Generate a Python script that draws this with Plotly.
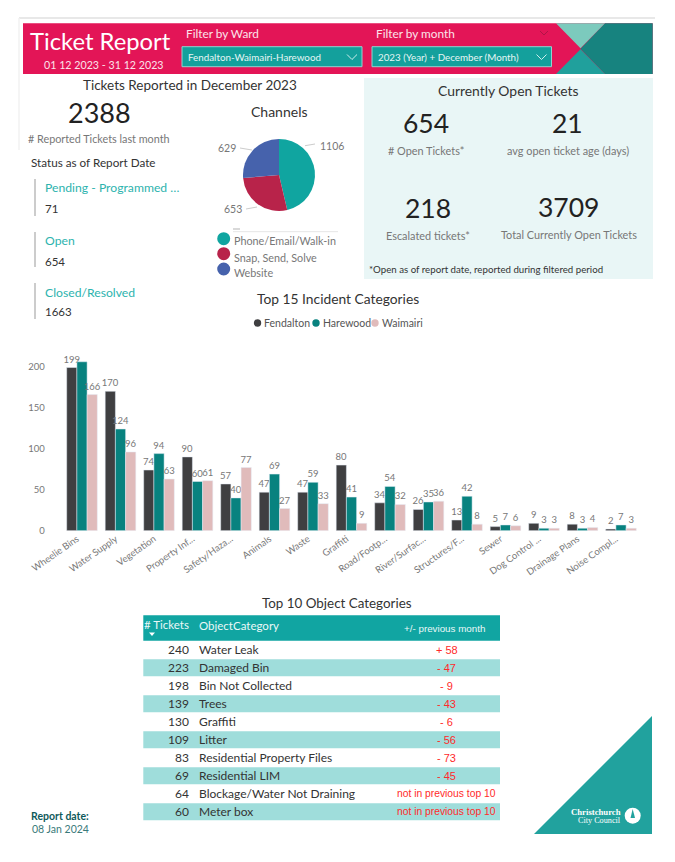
import plotly.graph_objects as go

W, H = 675, 862
FONT = "Lato"

# data
categories = ["Wheelie Bins", "Water Supply", "Vegetation", "Property Inf...", "Safety/Haza...", "Animals", "Waste",
              "Graffiti", "Road/Footp...", "River/Surfac...", "Structures/F...", "Sewer", "Dog Control ...",
              "Drainage Plans", "Noise Compl..."]
fendalton = [199, 170, 74, 90, 57, 47, 47, 80, 34, 26, 13, 5, 9, 8, 2]
harewood = [206, 124, 94, 60, 40, 69, 59, 41, 54, 35, 42, 7, 3, 3, 7]
waimairi = [166, 96, 63, 61, 77, 27, 33, 9, 32, 36, 8, 6, 3, 4, 3]
y_ticks = [0, 50, 100, 150, 200]

channels = ["Phone/Email/Walk-in", "Snap, Send, Solve", "Website"]
channel_values = [1106, 653, 629]

table_tickets = [240, 223, 198, 139, 130, 109, 83, 69, 64, 60]
table_objects = ["Water Leak", "Damaged Bin", "Bin Not Collected", "Trees", "Graffiti", "Litter",
                 "Residential Property Files", "Residential LIM", "Blockage/Water Not Draining", "Meter box"]
table_change = ["+ 58", "- 47", "- 9", "- 43", "- 6", "- 56", "- 73", "- 45",
                "not in previous top 10", "not in previous top 10"]

DARK = "#3F3F41"
TEAL = "#08827F"
PINK = "#E0BBBB"
CHANNEL_COLORS = ["#10A5A0", "#B8234A", "#4662AC"]
GREY = "#777777"
INK = "#333333"


def X(p):
    return p / W


def Y(p):
    return 1 - p / H


annotations = []
shapes = []


def note(x, y, text, size, color=INK, anchor="left", family=FONT):
    annotations.append(dict(x=X(x), y=Y(y), xref="paper", yref="paper", text=text, showarrow=False,
                            xanchor=anchor, yanchor="middle", align=anchor, borderpad=0,
                            font=dict(size=size, color=color, family=family)))


def rect(x0, y0, x1, y1, fill, layer="below"):
    shapes.append(dict(type="rect", xref="paper", yref="paper", x0=X(x0), x1=X(x1), y0=Y(y0), y1=Y(y1),
                       fillcolor=fill, line_width=0, layer=layer))


def line(x0, y0, x1, y1, color, width=1):
    shapes.append(dict(type="line", xref="paper", yref="paper", x0=X(x0), x1=X(x1), y0=Y(y0), y1=Y(y1),
                       line=dict(color=color, width=width)))


def poly(points, fill=None, color=None, width=0, closed=True):
    path = "M " + " L ".join(f"{X(a):.5f},{Y(b):.5f}" for a, b in points) + (" Z" if closed else "")
    shapes.append(dict(type="path", xref="paper", yref="paper", path=path, fillcolor=fill,
                       line=dict(color=color, width=width), layer="above"))


def dot(x, y, r, fill):
    shapes.append(dict(type="circle", xref="paper", yref="paper", x0=X(x - r), x1=X(x + r), y0=Y(y + r), y1=Y(y - r),
                       fillcolor=fill, line_width=0, layer="above"))


# page frame + header band
line(19, 18, 655, 18, "#E8E8E8", 2)
line(19, 18, 19, 150, "#F2F2F2", 1.5)
rect(23, 23.3, 652.7, 74, "#E31557")
poly([(605, 23.3), (652.7, 23.3), (652.7, 74), (605, 74), (580.5, 48.7)], fill="#17837F")
poly([(556, 23.3), (605, 23.3), (580.5, 48.3)], fill="#7CCABD")
poly([(556, 74), (605, 74), (580.5, 49.2)], fill="#20A09C")
note(100, 41, "Ticket Report", 23.8, "white", "center")
note(104, 64, "01 12 2023 - 31 12 2023", 10.7, "#FBE3EA", "center")
note(185, 34, "Filter by Ward", 11.8, "#FBE3EA")
note(375, 34, "Filter by month", 11.8, "#FBE3EA")
for x0, x1, label in [(182, 362, "Fendalton-Waimairi-Harewood"), (372, 551.5, "2023 (Year) + December (Month)")]:
    shapes.append(dict(type="rect", xref="paper", yref="paper", x0=X(x0), x1=X(x1), y0=Y(46.7), y1=Y(66.7),
                       fillcolor="#14A09C", line=dict(color="#8FD4D0", width=1), layer="above"))
    note(x0 + 5, 57, label, 9.8, "#E6F6F5")
    poly([(x1 - 15, 54.5), (x1 - 10, 59.5), (x1 - 5, 54.5)], color="#CFEFED", width=1, closed=False)
poly([(540, 31), (544, 35), (548, 31)], color="#B01548", width=1, closed=False)

# left KPIs
note(190, 85, "Tickets Reported in December 2023", 13.5, INK, "center")
note(99, 112, "2388", 27, "#222222", "center")
note(99, 138, "# Reported Tickets last month", 10.8, GREY, "center")
note(30, 162, "Status as of Report Date", 11.7, INK)
for y0, y1, label, value in [(179, 216, "Pending - Programmed …", "71"), (232, 267, "Open", "654"),
                             (283, 319, "Closed/Resolved", "1663")]:
    line(35, y0, 35, y1, "#BBBBBB", 1.5)
    note(44, y0 + 9, label, 12.2, "#2DB3AE")
    note(44, y0 + 29, value, 11.5, INK)

# channels pie text
note(279, 111, "Channels", 14, INK, "center")
note(319, 145.7, str(channel_values[0]), 10.5, GREY)
note(237, 148, str(channel_values[2]), 10.5, GREY, "right")
note(243, 209, str(channel_values[1]), 10.5, GREY, "right")
line(305, 145.7, 315, 144, "#CCCCCC")
line(240, 148, 252, 150, "#CCCCCC")
line(246, 209, 257, 207, "#CCCCCC")
line(233, 229, 240, 229, "#CCCCCC", 1.5)
line(233, 231.7, 338, 231.7, "#E6E6E6")
for name, color, yd, yt in zip(channels, CHANNEL_COLORS, [238.7, 253.7, 269], [240.7, 257, 273]):
    dot(223.7, yd, 6.5, color)
    note(233, yt, name, 10.8, GREY)

# open tickets panel
rect(364, 78, 653, 279, "#E9F6F6")
note(507.7, 91, "Currently Open Tickets", 13.9, INK, "center")
for x, y, big, small in [(425.7, 122.7, "654", "# Open Tickets*"), (567.5, 122.7, "21", "avg open ticket age (days)"),
                         (427.5, 208, "218", "Escalated tickets*"), (568.5, 207, "3709", "Total Currently Open Tickets")]:
    note(x, y, big, 26.5, "#222222", "center")
    note(x, y + 27.5, small, 10.9, GREY, "center")
note(368.3, 269, "*Open as of report date, reported during filtered period", 9.7, INK)

# bar chart title and legend
note(338, 298, "Top 15 Incident Categories", 13.8, INK, "center")
for x, name, color in [(257.5, "Fendalton", DARK), (316, "Harewood", TEAL), (375, "Waimairi", PINK)]:
    dot(x, 323, 3.7, color)
    note(x + 5.5, 323, name, 10.5, "#555555")

# top 10 table, drawn row by row
note(336.7, 602.7, "Top 10 Object Categories", 13.4, INK, "center")
rect(143.3, 615.3, 500, 640.7, "#11A5A2")
note(190, 624.7, "# Tickets", 11.5, "#EAF8F8", "right")
note(198, 625, "ObjectCategory", 11.5, "#EAF8F8")
note(445, 628.7, "+/- previous month", 9.8, "#EAF8F8", "center", "Liberation Sans")
poly([(149, 632.5), (155, 632.5), (152, 636)], fill="white")
for i, (count, obj, change) in enumerate(zip(table_tickets, table_objects, table_change)):
    y = 640.7 + 18 * i
    if i % 2 == 1:
        rect(143.3, y + 0.5, 500, y + 17.5, "#9FDDDB")
    note(190, y + 9, str(count), 12, INK, "right")
    note(198, y + 9, obj, 12, INK)
    note(446.5, y + 9, change, 11 if i < 8 else 10.3, "#FF2A2A", "center", "Liberation Sans")

# report date
note(30, 815.7, "<b>Report date:</b>", 10.5, "#0F5A5A")
note(31, 829, "08 Jan 2024", 10.5, "#3A7A7A")

# logo
poly([(534, 834), (652, 716), (652, 834)], fill="#21A29E")
note(622, 812, "<b>Christchurch</b>", 8.7, "white", "right", "Liberation Serif")
note(622, 820.5, "City Council", 8.2, "white", "right", "Liberation Serif")
dot(632.7, 815.7, 8, "white")
poly([(632.7, 809), (635, 818), (630.5, 818)], fill="#21A29E")

fig = go.Figure()

for name, values, color in [("Fendalton", fendalton, DARK), ("Harewood", harewood, TEAL), ("Waimairi", waimairi, PINK)]:
    labels = [str(v) for v in values]
    if name == "Harewood":
        labels[0] = ""  # label is hidden in the report, no room above the tallest bar
    fig.add_bar(x=categories, y=values, name=name, marker_color=color, text=labels, textposition="outside",
                textangle=0, constraintext="none", cliponaxis=False, showlegend=False,
                textfont=dict(size=9.5, color=GREY, family=FONT))

fig.add_pie(labels=channels, values=channel_values, sort=False, direction="clockwise", rotation=0,
            marker=dict(colors=CHANNEL_COLORS), textinfo="none", showlegend=False,
            domain=dict(x=[X(243), X(315)], y=[Y(211), Y(139)]))

fig.update_layout(
    width=W, height=H, margin=dict(l=0, r=0, t=0, b=0), paper_bgcolor="white", plot_bgcolor="white",
    barmode="group", bargap=0.205, bargroupgap=0,
    annotations=annotations, shapes=shapes, font=dict(family=FONT),
    xaxis=dict(domain=[X(62.75), X(640.25)], range=[-0.5, 14.5], showgrid=False, zeroline=False, showline=False,
               tickangle=-35, tickfont=dict(size=9.5, color=GREY), ticks="", automargin=False, ticklabelshift=-5),
    yaxis=dict(domain=[Y(530.7), Y(350.3)], range=[0, 220], tickvals=y_ticks, showgrid=False, zeroline=False,
               showline=False, tickfont=dict(size=9.5, color=GREY), ticklabelstandoff=17, automargin=False),
)

fig.write_html("out.html", config={"displayModeBar": False}, post_script="document.body.style.margin='0';")
